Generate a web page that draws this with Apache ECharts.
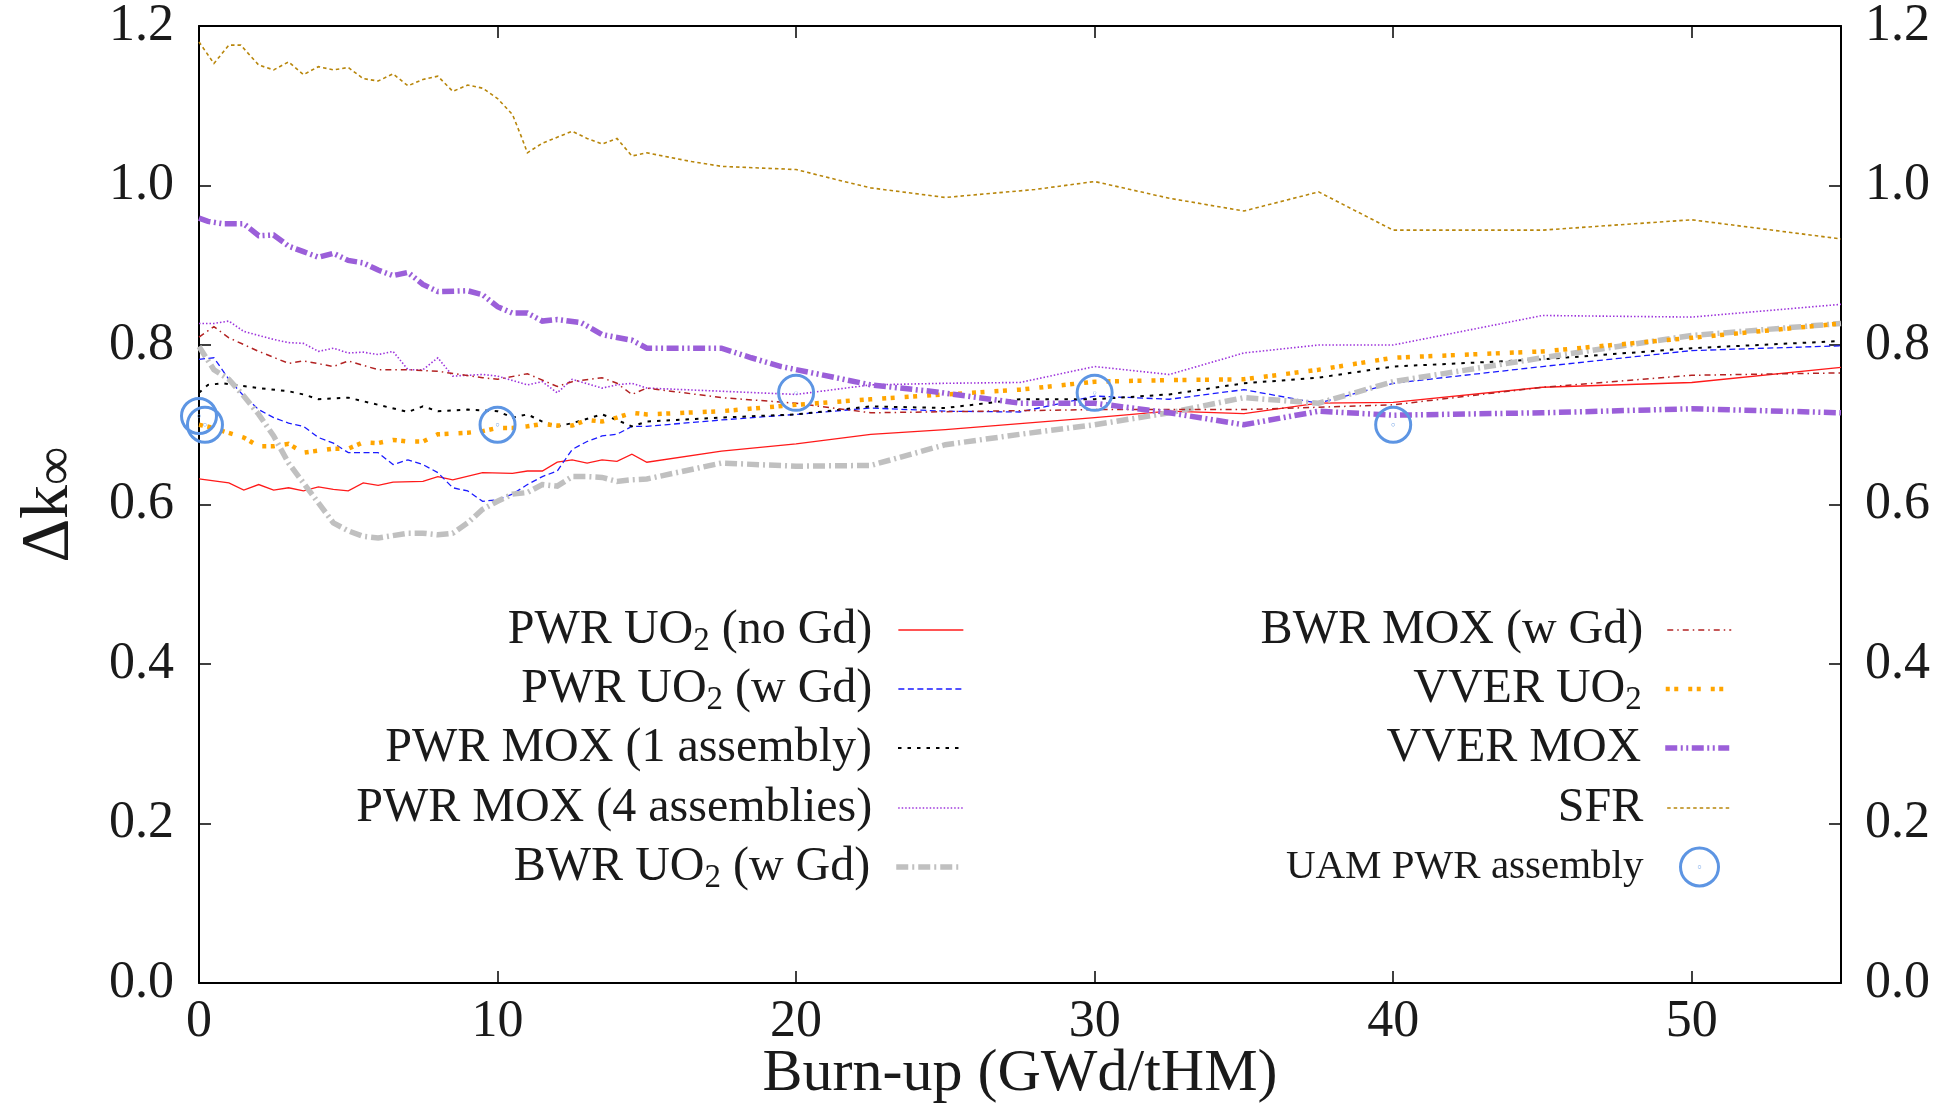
<!DOCTYPE html>
<html>
<head>
<meta charset="utf-8">
<script src="https://cdn.jsdelivr.net/npm/echarts@6/dist/echarts.min.js"></script>
<style>
html,body{margin:0;padding:0;background:#ffffff;}
#chart{width:1951px;height:1106px;}
</style>
</head>
<body>
<div id="chart"></div>
<script>
// ---------------- data ----------------
const xTickValues = [0, 10, 20, 30, 40, 50];
const yTickValues = [0.0, 0.2, 0.4, 0.6, 0.8, 1.0, 1.2];
const xAxisTitle = 'Burn-up (GWd/tHM)';
const yAxisTitleMain = 'Δk';
const yAxisTitleSub = '∞';

const seriesNames = [
  'PWR UO₂ (no Gd)',
  'PWR UO₂ (w Gd)',
  'PWR MOX (1 assembly)',
  'PWR MOX (4 assemblies)',
  'BWR UO₂ (w Gd)',
  'BWR MOX (w Gd)',
  'VVER UO₂',
  'VVER MOX',
  'SFR',
  'UAM PWR assembly'
];

const pwrUO2noGd = [[0,0.632],[1,0.627],[1.5,0.618],[2,0.625],[2.5,0.618],[3,0.621],[3.5,0.617],[4,0.622],[4.5,0.619],[5,0.617],[5.5,0.627],[6,0.624],[6.5,0.628],[7.5,0.629],[8,0.635],[8.5,0.631],[9.5,0.640],[10.5,0.639],[11,0.642],[11.5,0.642],[12,0.653],[12.5,0.656],[13,0.652],[13.5,0.656],[14,0.654],[14.5,0.663],[15,0.653],[17.5,0.667],[20,0.676],[22.5,0.688],[25,0.694],[30,0.709],[32.5,0.717],[35,0.714],[37.5,0.727],[40,0.728],[45,0.747],[50,0.753],[55,0.772]];

const pwrUO2wGd = [[0,0.782],[0.5,0.784],[1,0.757],[1.5,0.736],[2,0.719],[2.5,0.709],[3,0.702],[3.5,0.698],[4,0.684],[4.5,0.677],[5,0.665],[6,0.665],[6.5,0.650],[7,0.656],[7.5,0.650],[8,0.640],[8.5,0.621],[9,0.617],[9.5,0.604],[10,0.606],[10.5,0.613],[11,0.625],[11.5,0.635],[12,0.642],[12.5,0.669],[13,0.679],[13.5,0.686],[14,0.688],[14.5,0.698],[15,0.698],[17.5,0.706],[20,0.713],[22.5,0.721],[25,0.717],[27.5,0.716],[30,0.736],[32.5,0.732],[35,0.744],[37.5,0.727],[40,0.752],[45,0.773],[50,0.793],[55,0.799]];

const pwrMOX1 = [[0,0.740],[0.3,0.750],[0.8,0.752],[2,0.746],[3,0.742],[3.5,0.738],[4,0.732],[5,0.734],[6,0.725],[7,0.716],[7.5,0.723],[8,0.717],[9,0.719],[10,0.717],[10.5,0.709],[11,0.713],[11.5,0.704],[12,0.698],[12.5,0.702],[13.5,0.713],[14,0.706],[14.5,0.698],[15,0.704],[17.5,0.709],[20,0.713],[22.5,0.723],[25,0.721],[27.5,0.732],[30,0.732],[32.5,0.738],[35,0.752],[37.5,0.759],[40,0.773],[45,0.782],[50,0.796],[55,0.805]];

const pwrMOX4 = [[0,0.827],[0.5,0.827],[1,0.830],[1.5,0.817],[2,0.812],[2.5,0.807],[3,0.803],[3.5,0.802],[4,0.792],[4.5,0.796],[5,0.790],[5.5,0.791],[6,0.788],[6.5,0.792],[7,0.769],[7.5,0.769],[8,0.784],[8.5,0.761],[9.5,0.763],[10,0.761],[11,0.750],[11.5,0.754],[12,0.740],[12.5,0.757],[13.5,0.746],[14,0.750],[14.5,0.752],[15,0.746],[17.5,0.742],[20,0.738],[22.5,0.750],[25,0.752],[27.5,0.753],[30,0.773],[32.5,0.763],[35,0.790],[37.5,0.800],[40,0.800],[45,0.837],[50,0.835],[55,0.851]];

const bwrUO2wGd = [[0,0.798],[0.5,0.769],[1,0.757],[1.5,0.736],[2,0.713],[2.5,0.686],[3,0.652],[3.5,0.627],[4,0.602],[4.5,0.577],[5,0.567],[5.5,0.560],[6,0.558],[7,0.564],[7.5,0.564],[8,0.562],[8.5,0.564],[9,0.577],[9.5,0.594],[10,0.604],[10.5,0.613],[11,0.615],[11.5,0.625],[12,0.623],[12.5,0.635],[13,0.635],[13.5,0.634],[14,0.629],[14.5,0.631],[15,0.632],[17.5,0.652],[20,0.648],[22.5,0.649],[25,0.675],[27.5,0.688],[30,0.700],[32.5,0.715],[35,0.734],[37.5,0.727],[40,0.754],[45,0.784],[50,0.812],[55,0.827]];

const bwrMOXwGd = [[0,0.810],[0.5,0.823],[1,0.809],[2,0.792],[3,0.777],[3.5,0.780],[4.5,0.773],[5,0.780],[6,0.769],[7,0.769],[8,0.767],[9.5,0.759],[10,0.757],[11,0.764],[12,0.748],[12.5,0.754],[13.5,0.759],[14,0.752],[14.5,0.738],[15,0.746],[17.5,0.734],[20,0.727],[22.5,0.715],[30,0.719],[35,0.719],[40,0.725],[45,0.747],[50,0.762],[55,0.765]];

const vverUO2 = [[0,0.700],[0.5,0.696],[0.8,0.692],[1.5,0.684],[2,0.673],[2.5,0.673],[3,0.676],[3.5,0.665],[4.5,0.670],[5,0.670],[5.5,0.678],[6,0.677],[6.5,0.681],[7,0.679],[7.5,0.679],[8,0.688],[9,0.690],[9.5,0.692],[10,0.696],[10.5,0.696],[11,0.698],[11.5,0.701],[12,0.699],[12.5,0.699],[13,0.706],[13.5,0.704],[14,0.709],[14.5,0.715],[15,0.713],[17.5,0.717],[20,0.725],[22.5,0.732],[25,0.738],[27.5,0.744],[30,0.754],[32.5,0.756],[35,0.757],[37.5,0.769],[40,0.784],[45,0.792],[50,0.809],[55,0.827]];

const vverMOX = [[0,0.959],[0.3,0.955],[0.8,0.952],[1.5,0.952],[2,0.937],[2.5,0.938],[3,0.924],[3.5,0.917],[4,0.910],[4.5,0.915],[5,0.906],[5.5,0.903],[6,0.894],[6.5,0.887],[7,0.891],[7.5,0.876],[8,0.867],[9,0.868],[9.5,0.863],[10,0.848],[10.5,0.840],[11,0.840],[11.5,0.830],[12,0.832],[12.8,0.828],[13.5,0.813],[14.5,0.806],[15,0.796],[17.5,0.796],[18.5,0.784],[19.5,0.773],[22.5,0.750],[24.5,0.742],[26.5,0.732],[27.5,0.727],[30,0.727],[32.5,0.715],[35,0.700],[37.5,0.717],[40,0.712],[45,0.715],[50,0.720],[55,0.715]];

const sfr = [[0,1.180],[0.5,1.153],[1,1.176],[1.4,1.176],[2,1.151],[2.5,1.145],[3,1.155],[3.5,1.139],[4,1.149],[4.5,1.145],[5,1.148],[5.5,1.134],[6,1.131],[6.5,1.140],[7,1.125],[7.5,1.133],[8,1.137],[8.5,1.118],[9,1.126],[9.5,1.122],[10,1.109],[10.5,1.089],[10.8,1.061],[11,1.041],[11.5,1.053],[12.5,1.068],[13,1.059],[13.5,1.052],[14,1.059],[14.5,1.037],[15,1.041],[16.5,1.030],[17.5,1.024],[20,1.020],[21.5,1.006],[22.5,0.997],[25,0.985],[26.5,0.990],[28,0.995],[30,1.005],[32.5,0.984],[35,0.968],[37.5,0.992],[40,0.944],[45,0.944],[50,0.957],[55,0.933]];

const uamPWR = [[0,0.711],[0.2,0.700],[10,0.700],[20,0.740],[30,0.740],[40,0.700]];

// ---------------- styles ----------------
const FONT = 'Liberation Serif';
const TXT = '#1a1a1a';

const lineDefs = [
  { data: pwrUO2noGd, color: '#ff1a1a', width: 1.3, type: 'solid' },
  { data: pwrUO2wGd,  color: '#1a1aff', width: 1.3, type: [6, 3.5] },
  { data: pwrMOX1,    color: '#000000', width: 2,   type: [3.5, 6] },
  { data: pwrMOX4,    color: '#9d34dc', width: 1.6, type: [1.5, 2] },
  { data: bwrUO2wGd,  color: '#c0c0c0', width: 5.5, type: [12, 4, 2, 4] },
  { data: bwrMOXwGd,  color: '#b22222', width: 1.5, type: [6, 4, 1.5, 4] },
  { data: vverUO2,    color: '#ffa500', width: 4.5, type: [4, 4.5, 4, 10] },
  { data: vverMOX,    color: '#9b5fd9', width: 5.5, type: [12, 3.5, 2, 3.5, 2, 3.5] },
  { data: sfr,        color: '#b8860b', width: 1.6, type: [3.5, 3] }
];

const circlePath = 'path://M50,0 A50,50 0 1,1 50,100 A50,50 0 1,1 50,0 Z M50,49.5 A0.5,0.5 0 1,1 50,50.5 A0.5,0.5 0 1,1 50,49.5 Z';

const series = lineDefs.map((d, i) => ({
  name: seriesNames[i],
  type: 'line',
  data: d.data,
  symbol: 'none',
  showSymbol: false,
  color: d.color,
  itemStyle: { color: d.color },
  lineStyle: { color: d.color, width: d.width, type: d.type, cap: 'butt', join: 'miter' },
  silent: true,
  z: 2
}));
series.push({
  name: seriesNames[9],
  type: 'scatter',
  data: uamPWR,
  symbol: circlePath,
  symbolKeepAspect: true,
  symbolSize: 35,
  color: '#5d95e3',
  itemStyle: { color: 'rgba(0,0,0,0)', borderColor: '#5d95e3', borderWidth: 3, opacity: 1 },
  silent: true,
  z: 3
});

function subFormatter(name) {
  return name.replace('₂', '{sub|2}');
}

const legendRowsY = [630, 689, 748, 808, 867];
const legends = [];
for (let i = 0; i < 9; i++) {
  const col = i < 5 ? 0 : 1;
  const row = i < 5 ? i : i - 5;
  legends.push({
    data: [seriesNames[i]],
    orient: 'vertical',
    align: 'right',
    right: col === 0 ? 987 : 219,
    top: legendRowsY[row] - 28,
    padding: 0,
    itemWidth: col === 0 ? 65 : 64,
    itemHeight: 14,
    selectedMode: false,
    formatter: subFormatter,
    itemStyle: { opacity: 0, color: 'rgba(0,0,0,0)', borderWidth: 0 },
    lineStyle: { width: lineDefs[i].width, type: lineDefs[i].type, color: lineDefs[i].color, cap: 'butt' },
    textStyle: {
      fontFamily: FONT, fontSize: 48, color: TXT, lineHeight: 56,
      padding: [0, col === 0 ? 21 : 19, 0, 0],
      rich: { sub: { fontFamily: FONT, fontSize: 33, color: TXT, lineHeight: 30, verticalAlign: 'bottom' } }
    }
  });
}
legends.push({
  data: [seriesNames[9]],
  orient: 'vertical',
  align: 'right',
  right: 231,
  top: legendRowsY[4] - 28,
  padding: 0,
  itemWidth: 38,
  itemHeight: 38,
  selectedMode: false,
  itemStyle: { color: 'rgba(0,0,0,0)', borderColor: '#5d95e3', borderWidth: 3 },
  textStyle: { fontFamily: FONT, fontSize: 41, color: TXT, lineHeight: 56, padding: [0, 32, 0, 0] }
});

const axisLineStyle = { color: '#000', width: 2 };
const tickStyle = { color: '#000', width: 1.5 };

function xAxisDef(pos) {
  return {
    type: 'value', position: pos, min: xTickValues[0], max: 55, interval: xTickValues[1] - xTickValues[0],
    axisLine: { show: true, onZero: false, lineStyle: axisLineStyle },
    axisTick: { show: true, inside: true, length: 12, lineStyle: tickStyle },
    axisLabel: pos === 'bottom' ? {
      show: true, margin: 13, fontFamily: FONT, fontSize: 52, color: TXT, showMaxLabel: false,
      formatter: v => (xTickValues.indexOf(v) >= 0 ? String(v) : '')
    } : { show: false },
    splitLine: { show: false },
    name: pos === 'bottom' ? xAxisTitle : '',
    nameLocation: 'middle', nameGap: 61, nameMoveOverlap: false,
    nameTextStyle: { fontFamily: FONT, fontSize: 60, color: TXT }
  };
}
function yAxisDef(pos) {
  return {
    type: 'value', position: pos, min: yTickValues[0], max: yTickValues[yTickValues.length - 1],
    interval: yTickValues[1] - yTickValues[0],
    axisLine: { show: true, onZero: false, lineStyle: axisLineStyle },
    axisTick: { show: true, inside: true, length: 12, lineStyle: tickStyle },
    axisLabel: { show: true, margin: pos === 'left' ? 25 : 24, fontFamily: FONT, fontSize: 52, color: TXT,
      formatter: v => v.toFixed(1) },
    splitLine: { show: false },
    name: pos === 'left' ? yAxisTitleMain + '{sub|' + yAxisTitleSub + '}' : '',
    nameLocation: 'middle', nameGap: 114, nameRotate: 90, nameMoveOverlap: false,
    nameTextStyle: { fontFamily: FONT, fontSize: 68, color: TXT, lineHeight: 72,
      rich: { sub: { fontFamily: FONT, fontSize: 54, color: TXT, lineHeight: 46, verticalAlign: 'bottom' } } }
  };
}

const chart = echarts.init(document.getElementById('chart'), null, { renderer: 'canvas' });
chart.setOption({
  backgroundColor: '#ffffff',
  animation: false,
  grid: { left: 199, right: 110, top: 26, bottom: 123, containLabel: false, outerBoundsMode: 'none', show: false },
  xAxis: [xAxisDef('bottom'), xAxisDef('top')],
  yAxis: [yAxisDef('left'), yAxisDef('right')],
  legend: legends,
  tooltip: { show: false },
  series: series
});
</script>
</body>
</html>
